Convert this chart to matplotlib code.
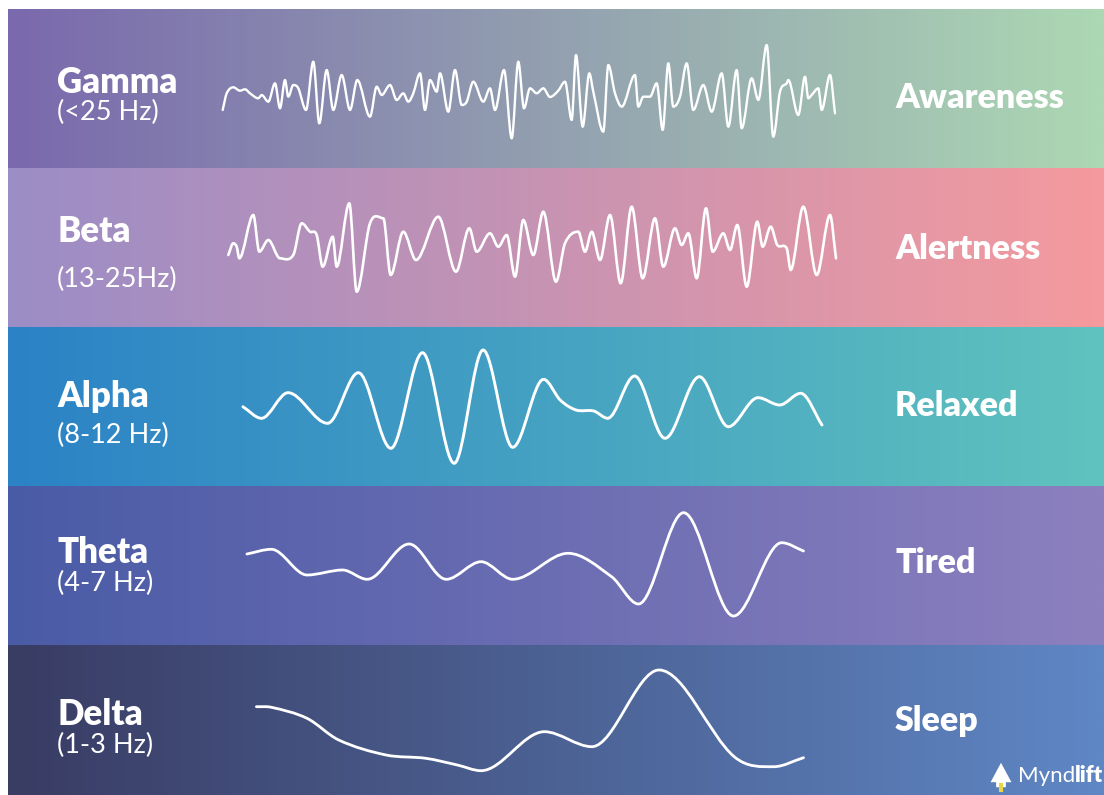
import matplotlib
matplotlib.use("Agg")
import matplotlib.pyplot as plt
import numpy as np
from matplotlib.path import Path
from matplotlib.patches import PathPatch

# ---------------- data ----------------
band_names = ["Gamma", "Beta", "Alpha", "Theta", "Delta"]
band_ranges = ["(<25 Hz)", "(13-25Hz)", "(8-12 Hz)", "(4-7 Hz)", "(1-3 Hz)"]
band_states = ["Awareness", "Alertness", "Relaxed", "Tired", "Sleep"]

gamma_x = [222.7, 226.7, 233.3, 240, 245, 250, 258.3, 261.7, 268.3, 275, 280, 285, 288.3, 293.3,
           298.3, 306, 313.3, 319.3, 326.7, 333.3, 341.7, 350, 357.3, 370, 376.7, 381.7, 390,
           396.7, 403.3, 408.3, 413.3, 420, 425, 430, 436.7, 440, 448.3, 455, 461.7, 466.7,
           473.3, 483.3, 490, 495, 504, 511.7, 518.3, 524, 530, 536.7, 543.3, 550, 558, 565,
           571.7, 576, 582.7, 589.3, 593.3, 603.3, 608.3, 615, 621.7, 635, 638.3, 643.3, 650,
           656.7, 662.7, 668.3, 673.3, 680, 686.7, 693.3, 703.3, 711.7, 721.7, 728.3, 736.7,
           741.7, 751.7, 758.3, 766.7, 773.3, 780, 786.7, 788.3, 798.3, 805, 808.3, 811.7,
           818.3, 821.7, 830, 835]
gamma_y = [110, 93.3, 87.3, 90.7, 89.3, 93.3, 98.3, 95, 101.7, 83.3, 108.3, 80, 96.7, 85,
           88.3, 110, 61.7, 123.3, 70, 110, 75, 110, 80, 116.7, 86.7, 95, 85,
           100, 93.3, 101.7, 93.3, 73.3, 110, 80, 91.7, 73.3, 111.7, 70, 105, 101.7,
           81.7, 101.7, 88.3, 110, 70, 138.3, 61.7, 108.3, 88.3, 93.3, 88.3, 97, 91, 81.7,
           120, 55, 126.7, 73.3, 91.7, 131.7, 65, 93.3, 106.7, 75, 106.7, 96.7, 96.7,
           83.3, 130, 63.3, 106.7, 96.7, 63.3, 110, 85, 111.7, 73.3, 126.7, 70,
           128.3, 78.3, 100, 45, 136.7, 91.7, 83.3, 80, 115, 76.7, 98.3, 95,
           88.3, 110, 75, 113.3]

beta_x = [228.3, 233.3, 236.7, 239.3, 253.3, 259.3, 268.3, 280, 293.3, 301.7, 310, 316.7,
          322.7, 332.7, 336.7, 349.3, 356.7, 370, 383.3, 390.7, 403.3, 416, 438.3, 456,
          469.3, 476.7, 490, 498.3, 506.7, 515, 523.3, 533.3, 543.3, 556, 565, 578.3, 585,
          591.7, 600, 610, 620.7, 631.7, 642.7, 655, 663.3, 675, 681.7, 688.3, 696.7, 706,
          712.7, 723.3, 730, 737.3, 746.7, 757.3, 762.7, 770.7, 777.3, 786.7, 790.7, 803.3,
          816.7, 830, 836]
beta_y = [255, 243.3, 246.7, 258.3, 215, 251.7, 240, 258.3, 255, 223.3, 231.7, 235,
          266.7, 236.7, 266.7, 203.3, 291.7, 223.3, 218.3, 275, 231.7, 260, 216.7, 271.7,
          228.3, 251.7, 233.3, 246.7, 235, 276.7, 220, 255, 211.7, 281.7, 243.3, 231.7, 251.7,
          231.7, 260, 215, 283.3, 206.7, 278.3, 218.3, 266.7, 228.3, 245, 233.3, 278.3, 208.3,
          251.7, 233.3, 250, 225, 286.7, 221.7, 246.7, 226.7, 245, 248.3, 270, 206.7,
          275, 215, 258.3]

alpha_x = [242.9, 261.5, 288.0, 327.6, 358.4, 390.9, 422.5, 454.2, 483.1, 512.7, 543.6,
           560.2, 576.0, 593.8, 607.7, 634.6, 665.0, 699.4, 728.3, 758.0, 779.7, 800.7, 822.0]
alpha_y = [406.7, 418.3, 392.7, 423.3, 372.7, 448.3, 352.7, 463.3, 350.0, 447.3, 379.3,
           400, 410, 411, 418.3, 376, 438.3, 376.7, 426.7, 397.7, 405, 393.3, 425]

theta_x = [246.9, 271.4, 307.0, 342.6, 367.2, 409.1, 446.3, 481.1, 512.7, 568.1, 611.6,
           638.5, 683.6, 733.5, 781.7, 803.5]
theta_y = [554, 549.3, 575, 570, 579.3, 544, 579.3, 561.7, 579.3, 553.3, 576.7,
           604, 512.7, 616, 542.7, 551]

delta_x = [256.4, 271.4, 307.0, 338.7, 386.1, 425.7, 457.3, 481.1, 544.4, 591.8, 659.1,
           734.2, 773.8, 803.5]
delta_y = [706.7, 707.3, 718.3, 740, 755, 758.3, 765, 770.7, 731.7, 746.7, 670,
           756.7, 766.7, 757.7]

# ---------------- style ----------------
W, H = 1104, 795
band_top = [9, 168, 327, 486, 645]
band_bot = [168, 327, 486, 645, 795]
left_cols = ["#7a69ad", "#9b8dc6", "#2b82c6", "#4a5ba6", "#393c63"]
right_cols = ["#acd8b3", "#f59a9e", "#60c3be", "#8d80bf", "#5f87c5"]
name_base = [93, 242, 407, 563, 725]
range_base = [120, 287, 443, 591, 753]
state_y = [98, 249, 406, 563, 721]

fig = plt.figure(figsize=(W / 100, H / 100), dpi=100)
fig.patch.set_facecolor("white")
ax = fig.add_axes([0, 0, 1, 1])
ax.axis("off")


def hex2rgb(h):
    h = h.lstrip("#")
    return np.array([int(h[i:i + 2], 16) / 255 for i in (0, 2, 4)])


for i in range(5):
    c0, c1 = hex2rgb(left_cols[i]), hex2rgb(right_cols[i])
    t = np.linspace(0, 1, 512)[:, None]
    rgb = (1 - t) * c0 + t * c1
    ax.imshow(rgb[None, :, :], extent=[8, W, band_bot[i], band_top[i]],
              aspect="auto", interpolation="bilinear", zorder=0)


def smooth_path(xs, ys):
    xs = np.asarray(xs, float)
    ys = np.asarray(ys, float)
    n = len(xs)
    m = np.zeros(n)
    for i in range(n):
        if i == 0:
            m[i] = (ys[1] - ys[0]) / (xs[1] - xs[0])
        elif i == n - 1:
            m[i] = (ys[-1] - ys[-2]) / (xs[-1] - xs[-2])
        elif (ys[i] - ys[i - 1]) * (ys[i + 1] - ys[i]) <= 0:
            m[i] = 0.0
        else:
            m[i] = (ys[i + 1] - ys[i - 1]) / (xs[i + 1] - xs[i - 1])
    verts = [(xs[0], ys[0])]
    codes = [Path.MOVETO]
    for i in range(n - 1):
        dx = xs[i + 1] - xs[i]
        verts += [(xs[i] + dx / 3, ys[i] + m[i] * dx / 3),
                  (xs[i + 1] - dx / 3, ys[i + 1] - m[i + 1] * dx / 3),
                  (xs[i + 1], ys[i + 1])]
        codes += [Path.CURVE4] * 3
    return Path(verts, codes)


for xs, ys, lw in [(gamma_x, gamma_y, 1.7), (beta_x, beta_y, 1.9), (alpha_x, alpha_y, 2.1),
                   (theta_x, theta_y, 2.0), (delta_x, delta_y, 2.0)]:
    ax.add_patch(PathPatch(smooth_path(xs, ys), fill=False, edgecolor="white",
                           lw=lw, capstyle="round", joinstyle="round", zorder=3))

for i in range(5):
    ax.text(57, name_base[i], band_names[i], family="Lato", fontweight="heavy",
            fontsize=25, color="white", ha="left", va="baseline", zorder=4)
    ax.text(57, range_base[i], band_ranges[i], family="Lato", fontsize=19.5,
            color="white", ha="left", va="baseline", zorder=4)
    ax.text(895, state_y[i], band_states[i], family="Lato", fontweight="heavy",
            fontsize=24.5, color="white", ha="left", va="center", zorder=4)

# logo
ax.annotate("", xy=(1001, 760), xytext=(1001, 790),
            arrowprops=dict(arrowstyle="simple,head_width=0.75,head_length=0.7,tail_width=0.35",
                            color="white", lw=0, mutation_scale=20), zorder=4)
ax.plot([1001, 1001], [785, 790], color="#e8d64a", lw=3, zorder=5)
t1 = ax.text(1018, 776, "Mynd", family="Lato", fontsize=16, color="white",
             ha="left", va="center", zorder=4)
fig.canvas.draw()
bb = t1.get_window_extent()
ax.text(bb.x1 + 0.5, 776, "lift", family="Lato", fontweight="heavy", fontsize=16,
        color="white", ha="left", va="center", zorder=4)

ax.set_xlim(0, W)
ax.set_ylim(H, 0)
fig.savefig("out.png", dpi=100, facecolor="white")
